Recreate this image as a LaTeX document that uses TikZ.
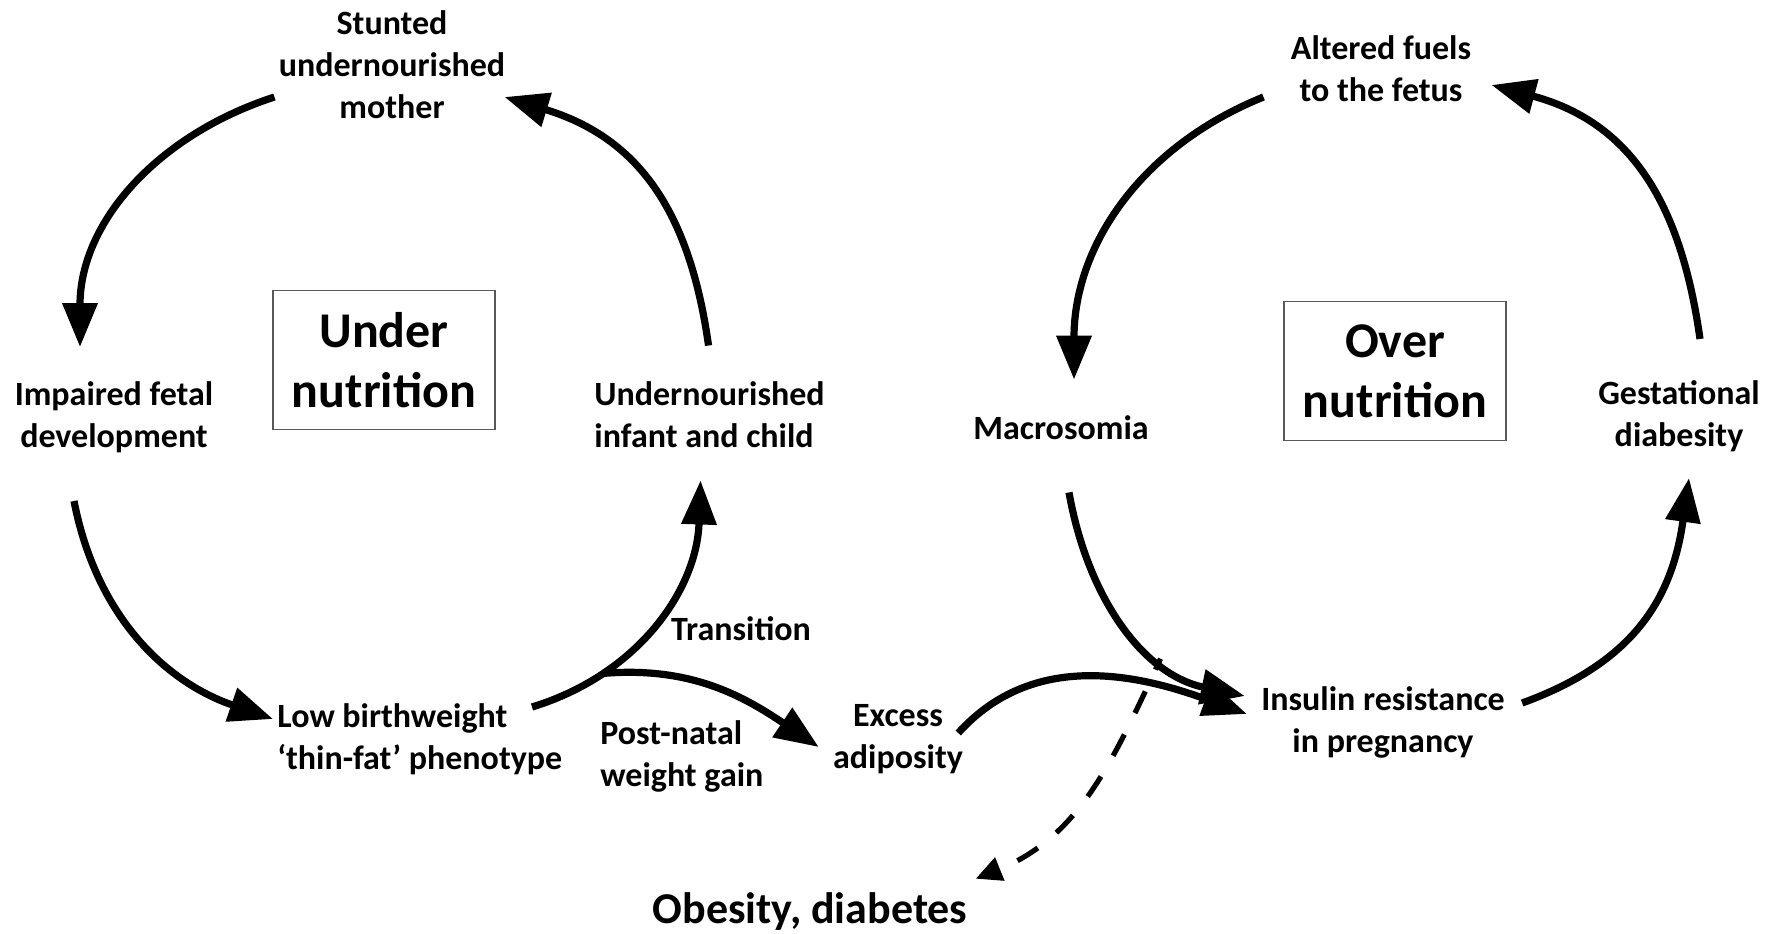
\documentclass[tikz,border=0pt]{standalone}
\usepackage{fontspec}
\setmainfont{Carlito}
\usetikzlibrary{arrows.meta}

\begin{document}
\begin{tikzpicture}[x=0.5pt,y=-0.5pt,
    lbl/.style={font=\bfseries\fontsize{17}{21}\selectfont,align=center,inner sep=0pt},
    cyclebox/.style={draw=black!65,line width=0.8pt,minimum width=111pt,minimum height=69.5pt,
        font=\bfseries\fontsize{25}{30}\selectfont,align=center,inner sep=0pt},
    arr/.style={line width=3.6pt,-{Triangle[length=22pt,width=17pt]}},
    dasharr/.style={line width=2.6pt,dash pattern=on 12pt off 12pt,dash phase=6pt,
        -{Triangle[length=13pt,width=12pt]}}]
    \useasboundingbox (0,0) rectangle (1783,933);

    % under nutrition cycle
    \node[lbl] (mother) at (392,65) {Stunted\\undernourished\\mother};
    \node[lbl] (fetal) at (114,417) {Impaired fetal\\development};
    \node[lbl,align=left,anchor=west] (infant) at (594,415) {Undernourished\\infant and child};
    \node[lbl,align=left,anchor=west] (lowbw) at (277,739) {Low birthweight\\`thin-fat' phenotype};
    \node[cyclebox] (under) at (384,360) {Under\\nutrition};
    \node[lbl] (trans) at (741,629) {Transition};
    \node[lbl,align=left,anchor=west] (postnatal) at (600,756) {Post-natal\\weight gain};
    \node[lbl] (excess) at (898,739) {Excess\\adiposity};
    \node[lbl,font=\bfseries\fontsize{22}{26}\selectfont] (obesity) at (810,912) {Obesity, diabetes};

    % over nutrition cycle
    \node[lbl] (fuels) at (1381,69) {Altered fuels\\to the fetus};
    \node[lbl] (macro) at (1061,428) {Macrosomia};
    \node[lbl] (insulin) at (1383,722) {Insulin resistance\\in pregnancy};
    \node[lbl] (gest) at (1679,416) {Gestational\\diabesity};
    \node[cyclebox] (over) at (1395,371) {Over\\nutrition};

    \draw[arr] ([shift={(-4,32)}]mother.west) to[out=198,in=90] ([shift={(-34,-34)}]fetal.north);
    \draw[arr] ([shift={(-40,48)}]fetal.south) to[out=281,in=161] ([shift={(-4,-20)}]lowbw.west);
    \draw[arr] ([shift={(255,-32)}]lowbw.west) to[out=17,in=268] node[coordinate,pos=0.25] (fork) {}
        ([shift={(-9,32)}]infant.south);
    \draw[arr] (fork) to[out=5,in=146] ([shift={(-14,8)}]excess.west);
    \draw[arr] ([shift={(-1,-36)}]infant.north) to[out=98,in=343,looseness=1.1] ([shift={(-1,32)}]mother.east);

    \draw[arr] ([shift={(-27,28)}]fuels.west) to[out=202,in=90] ([shift={(13,-36)}]macro.north);
    \draw[arr] ([shift={(8,52)}]macro.south) to[out=280,in=168] node[coordinate,pos=0.68] (split) {}
        ([shift={(-16,-26)}]insulin.west);
    \draw[arr] ([shift={(-5,-6)}]excess.east) to[out=48,in=160] ([shift={(-14,-8)}]insulin.west);
    \draw[arr] ([shift={(17,-19)}]insulin.east) to[out=20,in=262,looseness=1.1] ([shift={(10,26)}]gest.south);
    \draw[arr] ([shift={(21,-41)}]gest.north) to[out=98,in=345,looseness=1.1] ([shift={(20,16)}]fuels.east);
    \draw[dasharr] (split) to[out=245,in=22] ([shift={(8,-14)}]obesity.north east);
\end{tikzpicture}
\end{document}
